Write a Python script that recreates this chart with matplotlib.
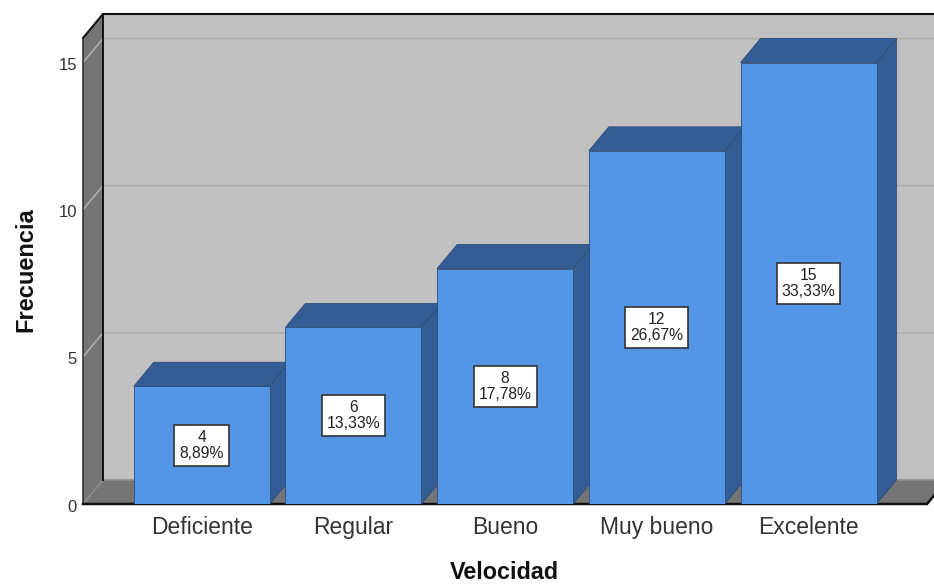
import matplotlib
matplotlib.use("Agg")
import matplotlib.pyplot as plt
from matplotlib.patches import Polygon
from matplotlib.transforms import ScaledTranslation

plt.rcParams['font.family'] = ['Liberation Sans', 'DejaVu Sans']

categories = ["Deficiente", "Regular", "Bueno", "Muy bueno", "Excelente"]
counts = [4, 6, 8, 12, 15]
percents = ["8,89%", "13,33%", "17,78%", "26,67%", "33,33%"]
y_ticks = [0, 5, 10, 15]
x_title = "Velocidad"
y_title = "Frecuencia"

W, H = 934, 584
LEFT, RIGHT, BOTTOM, TOP = 83, 934, 504, 38   # plot box in pixels
SLOT, BAR_W, FIRST = 151.7, 136.0, 201.7      # pixels
PX_Y = 29.43
DX_PX, DY_PX = 20.0, 24.0

FACE = "#5495E5"
DARK = "#335D94"
EDGE = "#2F4F78"
WALL = "#757575"
BACK = "#C0C0C0"
GRID = "#ADADAD"
INK = "#111111"

fig = plt.figure(figsize=(W / 100, H / 100), dpi=100, facecolor="white")
ax = fig.add_axes([LEFT / W, 1 - BOTTOM / H, (RIGHT - LEFT) / W, (BOTTOM - TOP) / H])
x0, x1 = (LEFT - FIRST) / SLOT, (RIGHT - FIRST) / SLOT
ymax = (BOTTOM - TOP) / PX_Y
ax.set_xlim(x0, x1)
ax.set_ylim(0, ymax)
ax.patch.set_visible(False)
for s in ax.spines.values():
    s.set_visible(False)

dx, dy = DX_PX / SLOT, DY_PX / PX_Y
bw = BAR_W / SLOT
floor_r = (927 - FIRST) / SLOT


def poly(pts, fc, ec="none", lw=0.0, z=1):
    ax.add_patch(Polygon(pts, closed=True, facecolor=fc, edgecolor=ec, linewidth=lw,
                         zorder=z, clip_on=False, joinstyle="miter"))


# walls
poly([(x0 + dx, 0 + dy), (floor_r + dx, dy), (floor_r + dx, ymax + dy), (x0 + dx, ymax + dy)], BACK, z=1)
poly([(x0, 0), (x0 + dx, dy), (x0 + dx, ymax + dy), (x0, ymax)], WALL, z=1)
poly([(x0, 0), (floor_r, 0), (floor_r + dx, dy), (x0 + dx, dy)], WALL, z=1)

# grid lines
for v in y_ticks:
    col = "#8E8E8E" if v == 0 else GRID
    ax.plot([x0, x0 + dx, floor_r + dx], [v, v + dy, v + dy], color=col, lw=1.2, zorder=2,
            clip_on=False, solid_joinstyle="miter")

# frame lines
ax.plot([x0 + dx, x0 + dx], [dy, ymax + dy], color=INK, lw=1.4, zorder=3, clip_on=False)
ax.plot([x0, x0 + dx, floor_r + dx], [ymax, ymax + dy, ymax + dy], color=INK, lw=1.5, zorder=3, clip_on=False)
ax.plot([x0, x0], [0, ymax], color="#2A2A2A", lw=1.1, zorder=3, clip_on=False)
ax.plot([x0, floor_r, floor_r + dx], [0, 0, dy], color=INK, lw=1.8, zorder=3, clip_on=False)

# bars
for i, (c, p) in enumerate(zip(counts, percents)):
    l, r = i - bw / 2, i + bw / 2
    z = 4 + i
    poly([(l, c), (r, c), (r + dx, c + dy), (l + dx, c + dy)], DARK, EDGE, 0.6, z)
    poly([(r, 0), (r + dx, dy), (r + dx, c + dy), (r, c)], DARK, EDGE, 0.6, z)
    ax.bar(i, c, width=bw, color=FACE, edgecolor=EDGE, linewidth=0.6, zorder=z)
    ax.text(i, c / 2, f"{c}\n{p}", ha="center", va="center", fontsize=11.3, color="#222222",
            linespacing=1.06, zorder=20,
            bbox=dict(boxstyle="square,pad=0.32", facecolor="white", edgecolor="#333333", linewidth=1.2))

ax.set_xticks(range(len(categories)))
ax.set_xticklabels(categories, fontsize=16.5, color="#333333")
ax.set_yticks(y_ticks)
ax.set_yticklabels([str(v) for v in y_ticks], fontsize=12, color="#333333")
ax.tick_params(axis="both", length=0)
ax.tick_params(axis="x", pad=8.5)
ax.tick_params(axis="y", pad=4.5)
shift = ScaledTranslation(0, -1.5 / 100, fig.dpi_scale_trans)
for t in ax.get_yticklabels():
    t.set_transform(t.get_transform() + shift)

fig.text(504.5 / W, 1 - 572.5 / H, x_title, fontsize=16.8, fontweight="bold", ha="center", va="center", color="#111111")
fig.text(25.5 / W, 1 - 270 / H, y_title, fontsize=17, fontweight="bold", ha="center", va="center",
         rotation=90, color="#111111")

fig.savefig("out.png", dpi=100, facecolor="white")
